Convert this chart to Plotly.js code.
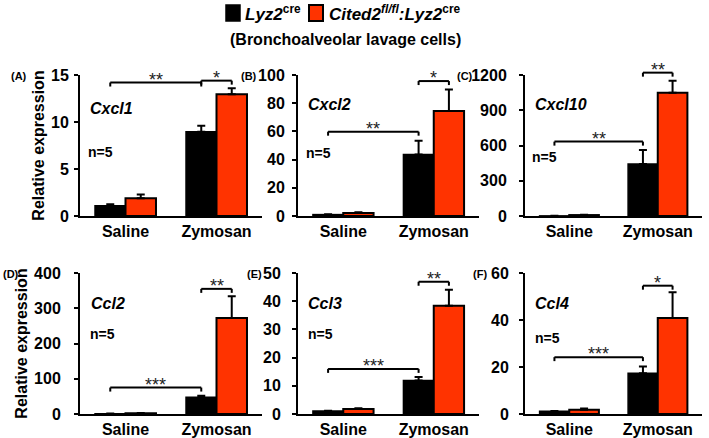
<!DOCTYPE html>
<html><head><meta charset="utf-8">
<script src="https://cdn.plot.ly/plotly-3.0.1.min.js"></script>
<style>html,body{margin:0;padding:0;background:#fff}</style>
</head><body><div id="chart" style="width:709px;height:438px"></div>
<script>
// ---------- data ----------
const categories = ['Saline', 'Zymosan'];
const genes = ['Cxcl1', 'Cxcl2', 'Cxcl10', 'Ccl2', 'Ccl3', 'Ccl4'];
const panelLetters = ['(A)', '(B)', '(C)', '(D)', '(E)', '(F)'];
const yMax = [15, 100, 1200, 400, 50, 60];
const yStep = [5, 20, 300, 100, 10, 20];

// Lyz2cre (black) and Cited2fl/fl:Lyz2cre (red): mean and SEM
const cxcl1Lyz2 = [1.1, 8.95];   const cxcl1Lyz2Err = [0.15, 0.65];
const cxcl1Cited2 = [1.9, 12.95]; const cxcl1Cited2Err = [0.4, 0.65];
const cxcl2Lyz2 = [1.0, 43.7];   const cxcl2Lyz2Err = [0.3, 9.7];
const cxcl2Cited2 = [2.2, 74.5]; const cxcl2Cited2Err = [0.5, 15.3];
const cxcl10Lyz2 = [1, 442];     const cxcl10Lyz2Err = [0.5, 120];
const cxcl10Cited2 = [8, 1050];  const cxcl10Cited2Err = [2, 102];
const ccl2Lyz2 = [1.0, 47.4];    const ccl2Lyz2Err = [0.3, 4.6];
const ccl2Cited2 = [2.0, 272];   const ccl2Cited2Err = [0.5, 62];
const ccl3Lyz2 = [1.07, 11.85];  const ccl3Lyz2Err = [0.1, 1.3];
const ccl3Cited2 = [1.78, 38.4]; const ccl3Cited2Err = [0.25, 5.7];
const ccl4Lyz2 = [1.14, 17.35];  const ccl4Lyz2Err = [0.15, 2.85];
const ccl4Cited2 = [1.85, 40.8]; const ccl4Cited2Err = [0.45, 11];

// significance: [Saline vs Zymosan (Lyz2cre), Lyz2cre vs Cited2 (Zymosan)]
const cxcl1Stars = ['**', '*'];    const cxcl1BracketY = [14.2, 14.4];
const cxcl2Stars = ['**', '*'];    const cxcl2BracketY = [59.8, 95.7];
const cxcl10Stars = ['**', '**'];  const cxcl10BracketY = [633, 1220];
const ccl2Stars = ['***', '**'];   const ccl2BracketY = [75, 355];
const ccl3Stars = ['***', '**'];   const ccl3BracketY = [16.0, 46.9];
const ccl4Stars = ['***', '*'];    const ccl4BracketY = [24.2, 54.6];

const lyz2Series = [cxcl1Lyz2, cxcl2Lyz2, cxcl10Lyz2, ccl2Lyz2, ccl3Lyz2, ccl4Lyz2];
const lyz2Errs = [cxcl1Lyz2Err, cxcl2Lyz2Err, cxcl10Lyz2Err, ccl2Lyz2Err, ccl3Lyz2Err, ccl4Lyz2Err];
const citedSeries = [cxcl1Cited2, cxcl2Cited2, cxcl10Cited2, ccl2Cited2, ccl3Cited2, ccl4Cited2];
const citedErrs = [cxcl1Cited2Err, cxcl2Cited2Err, cxcl10Cited2Err, ccl2Cited2Err, ccl3Cited2Err, ccl4Cited2Err];
const starSets = [cxcl1Stars, cxcl2Stars, cxcl10Stars, ccl2Stars, ccl3Stars, ccl4Stars];
const bracketSets = [cxcl1BracketY, cxcl2BracketY, cxcl10BracketY, ccl2BracketY, ccl3BracketY, ccl4BracketY];

// ---------- layout ----------
const W = 709, H = 438;
const FONT = 'Liberation Sans, Arial, sans-serif';
const RED = '#FF3300';
const colsPx = [[80, 262], [298, 479], [525, 702]];
const rowsPx = [[75, 216], [273, 414]];
const geneOff = [[8, 33], [8, 30], [8, 30], [9, 30], [8, 30], [8, 30]];
const nOff = [[6, 77], [6, 78], [5, 82], [8, 61], [8, 61], [8, 65]];
const letterX = [9, 239, 455, 1, 245, 471];
const labelStandoff = [2, 4, 9, 10, 8, 7];
const bargap = 0.33;
const half = (1 - bargap) / 4; // offset of each bar centre from category centre

const traces = [], shapes = [], annotations = [];
const layout = {
  width: W, height: H, margin: {l: 0, r: 0, t: 0, b: 0},
  paper_bgcolor: '#fff', plot_bgcolor: '#fff',
  font: {family: FONT, color: '#000'},
  barmode: 'group', bargap: bargap, bargroupgap: 0,
  showlegend: false
};

for (let i = 0; i < 6; i++) {
  const r = Math.floor(i / 3), c = i % 3, n = i + 1;
  const xs = n === 1 ? '' : String(n);
  const [xl, xr] = colsPx[c];
  const [yt, yb] = rowsPx[r];
  const hPx = yb - yt;
  layout['xaxis' + xs] = {
    domain: [xl / W, xr / W], anchor: 'y' + xs, type: 'category',
    range: [-0.5, 1.5], showline: true, linewidth: 2, linecolor: '#000',
    ticks: '', showgrid: false, zeroline: false, fixedrange: true,
    tickfont: {family: FONT, size: 16, weight: 'bold', color: '#000'}
  };
  layout['yaxis' + xs] = {
    domain: [1 - yb / H, 1 - yt / H], anchor: 'x' + xs,
    range: [0, yMax[i]], dtick: yStep[i], tick0: 0,
    showline: true, linewidth: 2, linecolor: '#000',
    ticks: 'outside', ticklen: 4, tickwidth: 2, tickcolor: '#000',
    ticklabelstandoff: labelStandoff[i],
    showgrid: false, zeroline: false, fixedrange: true,
    tickfont: {family: FONT, size: 16, weight: 'bold', color: '#000'}
  };
  if (c === 0) {
    layout['yaxis' + xs].title = {text: 'Relative expression', standoff: 2,
      font: {family: FONT, size: 16, weight: 'bold', color: '#000'}};
  }
  traces.push({
    type: 'bar', x: categories, y: lyz2Series[i], name: 'Lyz2cre',
    xaxis: 'x' + xs, yaxis: 'y' + xs,
    marker: {color: '#000', line: {color: '#000', width: 1.5}},
    error_y: {type: 'data', array: lyz2Errs[i], arrayminus: [0, 0], symmetric: false,
      color: '#000', thickness: 2, width: 4}
  });
  traces.push({
    type: 'bar', x: categories, y: citedSeries[i], name: 'Cited2fl/fl:Lyz2cre',
    xaxis: 'x' + xs, yaxis: 'y' + xs,
    marker: {color: RED, line: {color: '#000', width: 2}},
    error_y: {type: 'data', array: citedErrs[i], arrayminus: [0, 0], symmetric: false,
      color: '#000', thickness: 2, width: 4}
  });

  // significance brackets
  const pairs = [[0 - half, 1 - half], [1 - half, 1 + half]];
  const tick = 4 / hPx;
  pairs.forEach(([a, b], k) => {
    const yv = bracketSets[i][k] / yMax[i];
    const base = {type: 'line', xref: 'x' + xs, yref: 'y' + xs + ' domain',
      line: {color: '#000', width: 2}};
    shapes.push(Object.assign({}, base, {x0: a, x1: b, y0: yv, y1: yv}));
    shapes.push(Object.assign({}, base, {x0: a, x1: a, y0: yv, y1: yv - tick}));
    shapes.push(Object.assign({}, base, {x0: b, x1: b, y0: yv, y1: yv - tick}));
    annotations.push({xref: 'x' + xs, yref: 'y' + xs + ' domain', x: (a + b) / 2, y: yv,
      yanchor: 'bottom', xanchor: 'center', yshift: -9, showarrow: false,
      text: starSets[i][k], font: {family: FONT, size: 18, color: '#222'}});
  });

  // gene name, n, panel letter
  annotations.push({xref: 'paper', yref: 'paper', x: (xl + geneOff[i][0]) / W,
    y: 1 - (yt + geneOff[i][1]) / H, xanchor: 'left', yanchor: 'middle', showarrow: false,
    text: '<b><i>' + genes[i] + '</i></b>', font: {family: FONT, size: 16, color: '#000'}});
  annotations.push({xref: 'paper', yref: 'paper', x: (xl + nOff[i][0]) / W,
    y: 1 - (yt + nOff[i][1]) / H, xanchor: 'left', yanchor: 'middle', showarrow: false,
    text: '<b>n=5</b>', font: {family: FONT, size: 14, color: '#000'}});
  annotations.push({xref: 'paper', yref: 'paper', x: letterX[i] / W,
    y: 1 - (yt + 1) / H, xanchor: 'left', yanchor: 'middle', showarrow: false,
    text: '<b>' + panelLetters[i] + '</b>', font: {family: FONT, size: 11, color: '#000'}});
}

// legend (drawn manually) and subtitle
shapes.push({type: 'rect', xref: 'paper', yref: 'paper', x0: 226 / W, x1: 240 / W,
  y0: 1 - 21 / H, y1: 1 - 5 / H, fillcolor: '#000', line: {color: '#000', width: 1.5}});
shapes.push({type: 'rect', xref: 'paper', yref: 'paper', x0: 309 / W, x1: 323 / W,
  y0: 1 - 21 / H, y1: 1 - 5 / H, fillcolor: RED, line: {color: '#000', width: 2}});
annotations.push({xref: 'paper', yref: 'paper', x: 243 / W, y: 1 - 13 / H,
  xanchor: 'left', yanchor: 'middle', showarrow: false,
  text: '<b><i>Lyz2</i><sup>cre</sup></b>', font: {family: FONT, size: 17, color: '#000'}});
annotations.push({xref: 'paper', yref: 'paper', x: 327 / W, y: 1 - 13 / H,
  xanchor: 'left', yanchor: 'middle', showarrow: false,
  text: '<b><i>Cited2<sup>fl/fl</sup>:Lyz2</i><sup>cre</sup></b>', font: {family: FONT, size: 17, color: '#000'}});
annotations.push({xref: 'paper', yref: 'paper', x: 345 / W, y: 1 - 39 / H,
  xanchor: 'center', yanchor: 'middle', showarrow: false,
  text: '<b>(Bronchoalveolar lavage cells)</b>', font: {family: FONT, size: 16, color: '#000'}});

layout.shapes = shapes;
layout.annotations = annotations;
Plotly.newPlot('chart', traces, layout, {displayModeBar: false, staticPlot: true});
</script></body></html>
